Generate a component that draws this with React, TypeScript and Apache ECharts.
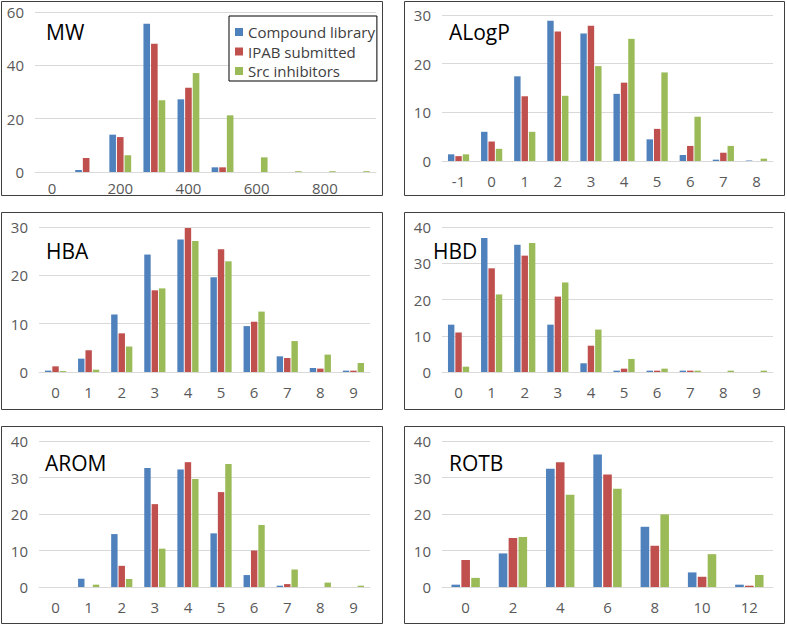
import React, { useEffect, useRef } from "react";
import * as echarts from "echarts";

const SERIES_NAMES = ["Compound library", "IPAB submitted", "Src inhibitors"];
const COLORS = ["#4F81BD", "#C0504D", "#9BBB59"];

const MW_CATS = ["0", "100", "200", "300", "400", "500", "600", "700", "800", "900"];
const MW_LIB = [0, 0.75, 14, 55.6, 27.25, 1.75, 0, 0, 0, 0];
const MW_IPAB = [0, 5.25, 13.1, 48.1, 31.6, 1.75, 0, 0, 0, 0];
const MW_SRC = [0, 0, 6.25, 26.9, 37.1, 21.25, 5.5, 0.3, 0.3, 0.3];

const ALOGP_CATS = ["-1", "0", "1", "2", "3", "4", "5", "6", "7", "8"];
const ALOGP_LIB = [1.37, 6.0, 17.4, 28.8, 26.2, 13.8, 4.45, 1.23, 0.27, 0.1];
const ALOGP_IPAB = [1.0, 4.0, 13.3, 26.6, 27.8, 16.1, 6.6, 3.1, 1.7, 0];
const ALOGP_SRC = [1.37, 2.5, 6.0, 13.4, 19.5, 25.1, 18.2, 9.1, 3.1, 0.48];

const HBA_CATS = ["0", "1", "2", "3", "4", "5", "6", "7", "8", "9"];
const HBA_LIB = [0.28, 2.76, 11.9, 24.3, 27.4, 19.6, 9.5, 3.24, 0.83, 0.28];
const HBA_IPAB = [1.17, 4.5, 8.0, 16.9, 29.8, 25.4, 10.4, 2.9, 0.7, 0.28];
const HBA_SRC = [0.2, 0.48, 5.3, 17.3, 27.1, 22.9, 12.5, 6.4, 3.6, 1.86];

const HBD_CATS = ["0", "1", "2", "3", "4", "5", "6", "7", "8", "9"];
const HBD_LIB = [13.06, 37.0, 35.1, 13.06, 2.4, 0.37, 0.37, 0.37, 0, 0];
const HBD_IPAB = [10.9, 28.6, 32.1, 20.8, 7.26, 0.92, 0.37, 0.37, 0, 0];
const HBD_SRC = [1.47, 21.4, 35.6, 24.7, 11.7, 3.6, 0.92, 0.37, 0.37, 0.37];

const AROM_CATS = ["0", "1", "2", "3", "4", "5", "6", "7", "8", "9"];
const AROM_LIB = [0, 2.27, 14.5, 32.6, 32.2, 14.7, 3.27, 0.36, 0, 0];
const AROM_IPAB = [0, 0, 5.8, 22.7, 34.2, 26.0, 10.0, 0.8, 0, 0];
const AROM_SRC = [0, 0.64, 2.2, 10.5, 29.6, 33.7, 17.0, 4.8, 1.2, 0.36];

const ROTB_CATS = ["0", "2", "4", "6", "8", "10", "12"];
const ROTB_LIB = [0.64, 9.2, 32.4, 36.3, 16.5, 4.0, 0.64];
const ROTB_IPAB = [7.4, 13.4, 34.2, 30.8, 11.3, 2.8, 0.36];
const ROTB_SRC = [2.5, 13.7, 25.3, 26.9, 19.9, 9.0, 3.3];

const PANELS = [
  { title: "MW", cats: MW_CATS, data: [MW_LIB, MW_IPAB, MW_SRC], max: 60, interval: 20, labelInterval: 1 },
  { title: "ALogP", cats: ALOGP_CATS, data: [ALOGP_LIB, ALOGP_IPAB, ALOGP_SRC], max: 30, interval: 10, labelInterval: 0 },
  { title: "HBA", cats: HBA_CATS, data: [HBA_LIB, HBA_IPAB, HBA_SRC], max: 30, interval: 10, labelInterval: 0 },
  { title: "HBD", cats: HBD_CATS, data: [HBD_LIB, HBD_IPAB, HBD_SRC], max: 40, interval: 10, labelInterval: 0 },
  { title: "AROM", cats: AROM_CATS, data: [AROM_LIB, AROM_IPAB, AROM_SRC], max: 40, interval: 10, labelInterval: 0 },
  { title: "ROTB", cats: ROTB_CATS, data: [ROTB_LIB, ROTB_IPAB, ROTB_SRC], max: 40, interval: 10, labelInterval: 0 },
];

// layout (pixels)
const GRIDS = [
  { left: 35, top: 12, width: 341, height: 160, xMargin: 8 },
  { left: 442, top: 15, width: 331, height: 146, xMargin: 12 },
  { left: 39, top: 227, width: 331, height: 145, xMargin: 12 },
  { left: 442, top: 227, width: 331, height: 145, xMargin: 12 },
  { left: 39, top: 441, width: 331, height: 146, xMargin: 12 },
  { left: 442, top: 441, width: 331, height: 146, xMargin: 12 },
];
const TITLE_POS = [
  { x: 46, y: 32 },
  { x: 449, y: 32 },
  { x: 46, y: 251 },
  { x: 433, y: 251 },
  { x: 45, y: 463 },
  { x: 449, y: 463 },
];
const BORDERS = [
  { x: 1.5, y: 1.5, w: 381, h: 194 },
  { x: 404.5, y: 1.5, w: 380, h: 194 },
  { x: 1.5, y: 212.5, w: 381, h: 197 },
  { x: 404.5, y: 212.5, w: 380, h: 197 },
  { x: 1.5, y: 426.5, w: 381, h: 197 },
  { x: 404.5, y: 426.5, w: 380, h: 197 },
];

const FONT = "'Open Sans', 'Noto Sans', sans-serif";

export default function App() {
  const ref = useRef<HTMLDivElement>(null);
  useEffect(() => {
    if (!ref.current) return;
    const chart = echarts.init(ref.current, null, { renderer: "svg" });
    const grid: any[] = [];
    const xAxis: any[] = [];
    const yAxis: any[] = [];
    const series: any[] = [];
    PANELS.forEach((p, i) => {
      const g = GRIDS[i];
      grid.push({ left: g.left, top: g.top, width: g.width, height: g.height, containLabel: false });
      xAxis.push({
        type: "category",
        gridIndex: i,
        data: p.cats,
        axisLine: { show: true, lineStyle: { color: "#D9D9D9", width: 1 } },
        axisTick: { show: false },
        axisLabel: {
          interval: p.labelInterval,
          color: "#595959",
          fontSize: 15,
          fontFamily: FONT,
          margin: g.xMargin,
        },
        splitLine: { show: false },
      });
      yAxis.push({
        type: "value",
        gridIndex: i,
        min: 0,
        max: p.max,
        interval: p.interval,
        axisLine: { show: false },
        axisTick: { show: false },
        axisLabel: { color: "#595959", fontSize: 15, fontFamily: FONT, margin: 11 },
        splitLine: { show: true, lineStyle: { color: "#D9D9D9", width: 1 } },
      });
      p.data.forEach((d, k) => {
        series.push({
          type: "bar",
          name: SERIES_NAMES[k],
          xAxisIndex: i,
          yAxisIndex: i,
          data: d,
          barGap: "15%",
          barCategoryGap: p.cats.length < 8 ? "40%" : "36%",
          itemStyle: { color: COLORS[k] },
        });
      });
    });

    const graphic: any[] = [];
    BORDERS.forEach((b) => {
      graphic.push({
        type: "rect",
        shape: { x: b.x, y: b.y, width: b.w, height: b.h },
        style: { fill: "none", stroke: "#3F3F3F", lineWidth: 1 },
        silent: true,
        z: 100,
      });
    });
    PANELS.forEach((p, i) => {
      graphic.push({
        type: "text",
        x: TITLE_POS[i].x,
        y: TITLE_POS[i].y,
        style: {
          text: p.title,
          fontSize: 21,
          fontFamily: FONT,
          fill: "#000000",
          verticalAlign: "middle",
          align: "left",
        },
        z: 100,
      });
    });

    chart.setOption({
      animation: false,
      grid,
      xAxis,
      yAxis,
      series,
      graphic,
      legend: {
        data: SERIES_NAMES,
        orient: "vertical",
        left: 229,
        top: 16,
        width: 152,
        backgroundColor: "#FFFFFF",
        borderColor: "#000000",
        borderWidth: 1,
        padding: [7, 2, 1, 6],
        itemWidth: 8,
        itemHeight: 8,
        itemGap: 1.5,
        icon: "rect",
        textStyle: { color: "#404040", fontSize: 15, fontFamily: FONT, lineHeight: 18 },
      },
    });
    return () => chart.dispose();
  }, []);
  return (
    <div
      ref={ref}
      style={{ position: "fixed", left: 0, top: 0, width: 787, height: 625, background: "#FFFFFF" }}
    />
  );
}
